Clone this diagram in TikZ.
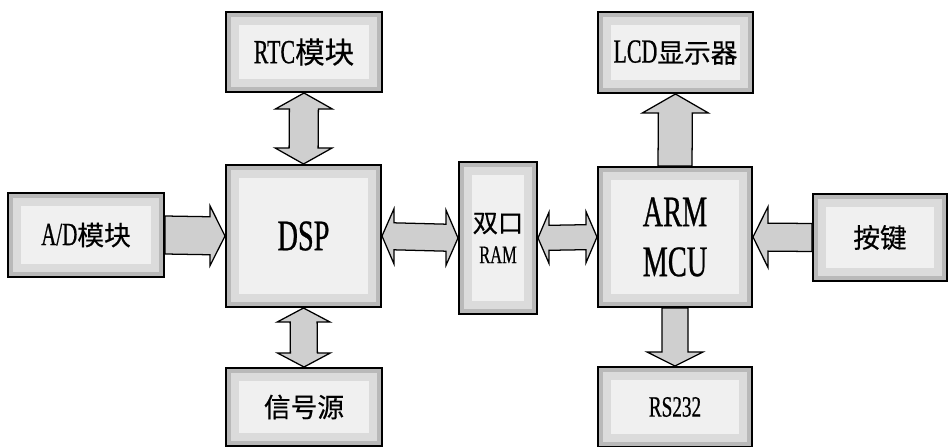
\documentclass[tikz,border=0pt]{standalone}
\usepackage{fontspec}
\setmainfont[FakeStretch=0.65,FakeBold=0.6]{Liberation Serif}
\newfontfamily\cjk[FakeBold=0.4]{Noto Sans CJK SC}
\usetikzlibrary{calc}

\tikzset{
  across/.code 2 args={\def\fpx{#1}\def\fpy{#2}},
  fw/.store in=\fw, fhw/.store in=\fhw, fh/.store in=\fh,
  across={0}{1}, fw=14, fhw=28, fh=10pt,
  box/.style={draw=black, line width=1.4pt, fill=gray!12, inner sep=0pt,
    font=\fontsize{24}{28}\selectfont,
    path picture={
      \draw[gray!28, line width=18pt] (path picture bounding box.south west) rectangle (path picture bounding box.north east);
      \draw[gray!55, line width=7pt] (path picture bounding box.south west) rectangle (path picture bounding box.north east);}},
  fat/.style={draw=black, line width=0.9pt, fill=gray!38},
  onehead/.style={to path={
    ($(\tikztostart)+({\fpx*\fw},{\fpy*\fw})$)
    -- ($(\tikztotarget)!\fh!(\tikztostart)+({\fpx*\fw},{\fpy*\fw})$)
    -- ($(\tikztotarget)!\fh!(\tikztostart)+({\fpx*\fhw},{\fpy*\fhw})$)
    -- (\tikztotarget)
    -- ($(\tikztotarget)!\fh!(\tikztostart)-({\fpx*\fhw},{\fpy*\fhw})$)
    -- ($(\tikztotarget)!\fh!(\tikztostart)-({\fpx*\fw},{\fpy*\fw})$)
    -- ($(\tikztostart)-({\fpx*\fw},{\fpy*\fw})$) -- cycle}},
  twohead/.style={to path={
    ($(\tikztostart)!\fh!(\tikztotarget)+({\fpx*\fhw},{\fpy*\fhw})$)
    -- (\tikztostart)
    -- ($(\tikztostart)!\fh!(\tikztotarget)-({\fpx*\fhw},{\fpy*\fhw})$)
    -- ($(\tikztostart)!\fh!(\tikztotarget)-({\fpx*\fw},{\fpy*\fw})$)
    -- ($(\tikztotarget)!\fh!(\tikztostart)-({\fpx*\fw},{\fpy*\fw})$)
    -- ($(\tikztotarget)!\fh!(\tikztostart)-({\fpx*\fhw},{\fpy*\fhw})$)
    -- (\tikztotarget)
    -- ($(\tikztotarget)!\fh!(\tikztostart)+({\fpx*\fhw},{\fpy*\fhw})$)
    -- ($(\tikztotarget)!\fh!(\tikztostart)+({\fpx*\fw},{\fpy*\fw})$)
    -- ($(\tikztostart)!\fh!(\tikztotarget)+({\fpx*\fw},{\fpy*\fw})$) -- cycle}},
}

\begin{document}
\begin{tikzpicture}[x=0.025cm, y=-0.025cm]
\useasboundingbox (0,0) rectangle (948,447);
% boxes
\node[box, minimum width=3.9cm, minimum height=2cm] (rtc) at (304,52) {RTC{\cjk\fontsize{21}{25}\selectfont 模块}};
\node[box, minimum width=3.875cm, minimum height=3.55cm, font=\fontsize{31}{36}\selectfont] (dsp) at (303.5,236) {DSP};
\node[box, minimum width=3.9cm, minimum height=1.95cm] (sig) at (304,407) {\cjk\fontsize{19}{23}\selectfont 信号源};
\node[box, minimum width=3.9cm, minimum height=2.1cm, font=\fontsize{23}{27}\selectfont] (ad) at (86,235) {A/D{\cjk\fontsize{19}{23}\selectfont 模块}};
\node[box, minimum width=1.95cm, minimum height=3.8cm, align=center, font=\fontsize{18}{22}\selectfont] (ram) at (498,238) {{\cjk\fontsize{18}{22}\selectfont 双口}\\RAM};
\node[box, minimum width=3.85cm, minimum height=3.5cm, align=center, font=\fontsize{31}{35.5}\selectfont] (arm) at (675,237) {ARM\\MCU};
\node[box, minimum width=3.875cm, minimum height=2.025cm] (lcd) at (675.5,52.5) {LCD{\cjk\fontsize{19}{23}\selectfont 显示器}};
\node[box, minimum width=3.85cm, minimum height=2cm, font=\fontsize{21}{25}\selectfont] (rs) at (675,407) {RS232};
\node[box, minimum width=3.35cm, minimum height=2.175cm] (key) at (880,237.5) {\cjk\fontsize{19}{23}\selectfont 按键};
% block arrows
\draw[fat] (rtc.south) to[twohead, across={1}{0}, fw=14.5, fhw=28.5, fh=11.4pt] (dsp.north);
\draw[fat] (dsp.south) to[twohead, across={1}{0}, fw=13.5, fhw=26.5, fh=10pt] (sig.north);
\draw[fat] (ad.east) to[onehead, fw=19, fhw=30, fh=10.7pt] (dsp.west);
\draw[fat] (dsp.east) to[twohead, fw=13.5, fhw=27.5, fh=8.5pt] (ram.west);
\draw[fat] (ram.east) to[twohead, fw=12.5, fhw=25.5, fh=7.8pt] (arm.west);
\draw[fat] (key.west) to[onehead, fw=14, fhw=30.5, fh=10.7pt] (arm.east);
\draw[fat] (arm.north) to[onehead, across={1}{0}, fw=17, fhw=33, fh=13.5pt] (lcd.south);
\draw[fat] (arm.south) to[onehead, across={1}{0}, fw=13, fhw=28, fh=10pt] (rs.north);
\end{tikzpicture}
\end{document}
